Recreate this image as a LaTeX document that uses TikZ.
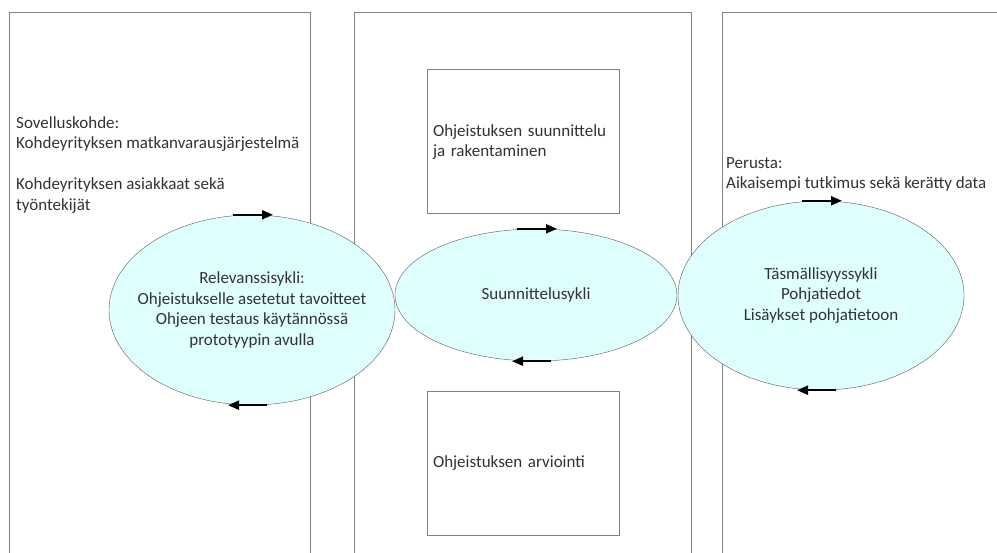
\documentclass[tikz,border=0pt]{standalone}
\usepackage{fontspec}
\setmainfont{Carlito}
\usetikzlibrary{shapes.geometric,arrows.meta,calc}

\definecolor{framegray}{RGB}{128,128,128}
\definecolor{cyclefill}{RGB}{223,255,255}
\definecolor{cycleline}{RGB}{90,90,90}
\definecolor{textgray}{RGB}{50,50,50}

\tikzstyle{panel}=[draw=framegray,line width=1pt,rectangle,inner sep=0pt,anchor=north west]
\tikzstyle{stagebox}=[draw=framegray,line width=1pt,rectangle,inner sep=6pt,minimum width=192pt,minimum height=144pt,text width=180pt,align=left,text=textgray]
\tikzstyle{cyclenode}=[draw=cycleline,fill=cyclefill,ellipse,inner sep=0pt]
\tikzstyle{cycletext}=[inner sep=0pt,align=center,text=textgray]
\tikzstyle{flow}=[draw=black,line width=2pt,-{Triangle[length=11pt,width=9pt]}]
\tikzstyle{note}=[anchor=north west,inner sep=0pt,align=left,text=textgray]
\newcommand{\pxfont}{\fontsize{17}{20.5}\selectfont}

\begin{document}
\begin{tikzpicture}[x=1pt, y=-1pt, font=\pxfont]
    \useasboundingbox (0,0) rectangle (997,553);
    \clip (0,0) rectangle (997,553);
    % First the three tall panels
    \foreach \pos/\wid/\name in {{(9,11.6)/301/sovellus}, {(354,11.6)/337/suunnittelu}, {(722,11.6)/300/perusta}}
        \node[panel, minimum width=\wid pt, minimum height=560pt] (\name) at \pos {};
    % Boxes of the middle panel
    \node[stagebox] (rakentaminen) at (523,142) {Ohjeistuksen suunnittelu\\ja rakentaminen};
    \node[stagebox] (arviointi) at (523,463.5) {Ohjeistuksen arviointi};
    % Panel texts
    \node[note] (kohde) at (16,116) {Sovelluskohde:\\Kohdeyrityksen matkanvarausjärjestelmä\\[20.5pt]Kohdeyrityksen asiakkaat sekä\\työntekijät};
    \node[note] (pohja) at (726,157) {Perusta:\\Aikaisempi tutkimus sekä kerätty data};
    % The cycles
    \foreach \pos/\wid/\hei/\name in {{(252,310)/286/190/relevanssi}, {(536,295)/282/132/suunnittelusykli}, {(821,295.5)/286/189/tasmallisyys}}
        \node[cyclenode, minimum width=\wid pt, minimum height=\hei pt] (\name) at \pos {};
    \node[cycletext] (relevanssi-text) at (relevanssi) {Relevanssisykli:\\Ohjeistukselle asetetut tavoitteet\\Ohjeen testaus käytännössä\\prototyypin avulla};
    \node[cycletext] (suunnittelusykli-text) at (suunnittelusykli) {Suunnittelusykli};
    \node[cycletext] (tasmallisyys-text) at (tasmallisyys) {Täsmällisyyssykli\\Pohjatiedot\\Lisäykset pohjatietoon};
    % Arrows on top and bottom of each cycle
    \foreach \name in {relevanssi,suunnittelusykli,tasmallisyys}{
        \draw[flow] ($(\name.north)+(-19,0)$) -- ($(\name.north)+(21,0)$);
        \draw[flow] ($(\name.south)+(15,0)$) -- ($(\name.south)+(-24,0)$);
    }
\end{tikzpicture}
\end{document}
